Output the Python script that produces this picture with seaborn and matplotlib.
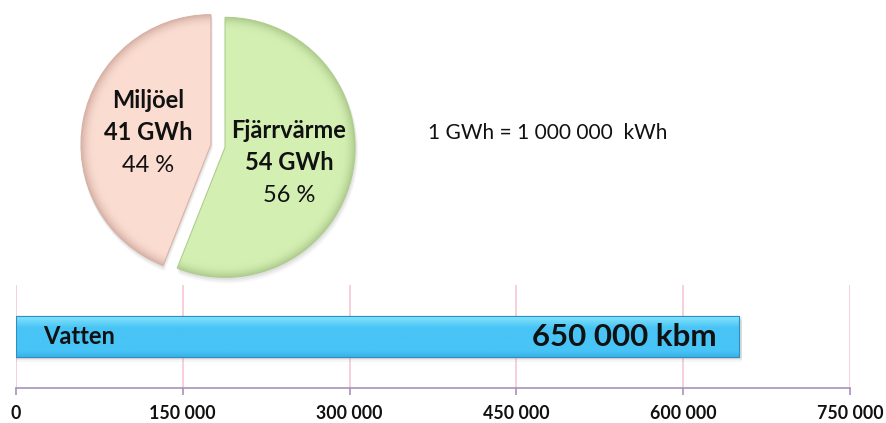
import numpy as np
import pandas as pd
import matplotlib
matplotlib.use("Agg")
import matplotlib.pyplot as plt
from matplotlib.colors import to_rgb
from matplotlib.patches import Wedge
import seaborn as sns

# ---- data ----
pie_names = ["Miljöel", "Fjärrvärme"]
pie_gwh = [41, 54]
pie_pct = [44, 56]
bar_names = ["Vatten"]
bar_values = [650000]
bar_unit = "kbm"
x_ticks = [0, 150000, 300000, 450000, 600000, 750000]
note_text = "1 GWh = 1 000 000  kWh"

sns.set_theme(style="white")
plt.rcParams["font.family"] = ["Lato", "DejaVu Sans"]

W, H = 887, 423
fig = plt.figure(figsize=(W / 100, H / 100), dpi=100)

def fx(px):
    return px / W

def fy(py):
    return 1 - py / H

def fmt(v):
    return f"{int(v):,}".replace(",", " ")

# ---- pie ----
R_PX = 130
CX, CY = 218, 146
half = 150
ax_pie = fig.add_axes([fx(CX - half), fy(CY + half), 2 * half / W, 2 * half / H])
lim = half / R_PX

fill_cols = ["#FADCD1", "#D4EFB2"]
edge_cols = ["#D8B2A6", "#AFCD8E"]
wedges, _ = ax_pie.pie(pie_pct, startangle=90, counterclock=True,
                       explode=[0.055, 0.055], radius=1,
                       colors=fill_cols,
                       wedgeprops=dict(edgecolor="none", linewidth=0, zorder=2))

# soft shadow
for w in wedges:
    for k, a in zip([0.035, 0.025, 0.015], [0.06, 0.08, 0.10]):
        sh = Wedge((w.center[0] + k * 0.4, w.center[1] - k), w.r + k * 0.3,
                   w.theta1, w.theta2, facecolor="#7a7a7a", alpha=a,
                   edgecolor="none", zorder=1)
        ax_pie.add_patch(sh)

gx = np.linspace(-lim, lim, 500)
GX, GY = np.meshgrid(gx, gx[::-1])
for w, fc, ec in zip(wedges, fill_cols, edge_cols):
    c = w.center
    r = np.sqrt((GX - c[0]) ** 2 + (GY - c[1]) ** 2)
    t = np.clip((r - 0.90) / 0.10, 0, 1) ** 2
    fc_, ec_ = np.array(to_rgb(fc)), np.array(to_rgb(ec))
    img = fc_[None, None, :] * (1 - t[..., None]) + ec_[None, None, :] * t[..., None]
    im = ax_pie.imshow(img, extent=[-lim, lim, -lim, lim], zorder=3,
                       interpolation="bilinear")
    im.set_clip_path(w)
    outline = Wedge(w.center, w.r, w.theta1, w.theta2, facecolor="none",
                    edgecolor=ec, linewidth=0.8, zorder=4)
    ax_pie.add_patch(outline)

ax_pie.set_xlim(-lim, lim)
ax_pie.set_ylim(-lim, lim)
ax_pie.set_aspect("equal")
ax_pie.axis("off")

def p2d(px, py):
    return (px - CX) / R_PX, (CY - py) / R_PX

label_pos = [(148, [100, 133, 165]), (289, [130, 162, 195])]
for name, g, p, (lx, ys) in zip(pie_names, pie_gwh, pie_pct, label_pos):
    texts = [(name, "bold"), (f"{g} GWh", "bold"), (f"{p} %", "normal")]
    for (s, wt), yy in zip(texts, ys):
        x, y = p2d(lx, yy)
        ax_pie.text(x, y, s, ha="center", va="center", fontsize=17,
                    fontweight=wt, color="#111111", zorder=5)

fig.text(fx(428), fy(133), note_text, ha="left", va="center",
         fontsize=15, color="#111111")

# ---- bar ----
ax_bar = fig.add_axes([fx(16), fy(388), (850 - 16) / W, (388 - 285) / H])
df = pd.DataFrame({"name": bar_names, "value": bar_values})
sns.barplot(data=df, x="value", y="name", orient="h", ax=ax_bar,
            width=0.4, color="#47C3F5", edgecolor="#2F8FBF", linewidth=0.8,
            zorder=3)
ax_bar.set_xlabel("")
ax_bar.set_ylabel("")
ax_bar.set_yticks([])
ax_bar.set_xticks(x_ticks, labels=[fmt(v) for v in x_ticks],
                  fontweight="bold", fontsize=12.8, color="#111111")
for t in x_ticks:
    ax_bar.axvline(t, color="#F5C8D6", linewidth=1.2, zorder=1)
for s in ["left", "right", "top"]:
    ax_bar.spines[s].set_visible(False)
ax_bar.spines["bottom"].set_color("#A592BC")
ax_bar.spines["bottom"].set_linewidth(1.2)
ax_bar.tick_params(axis="x", direction="out", length=5, width=1.2,
                   color="#A592BC", pad=7.5, bottom=True)

# vertical gradient + shadow on bar
bar_patch = ax_bar.patches[0]
bx, by = bar_patch.get_x(), bar_patch.get_y()
bw, bh = bar_patch.get_width(), bar_patch.get_height()
for k, a in zip([0.03, 0.02, 0.01], [0.06, 0.08, 0.1]):
    ax_bar.add_patch(plt.Rectangle((bx, by + k * 1.5), bw + 3000, bh,
                                   facecolor="#707070", alpha=a,
                                   edgecolor="none", zorder=2))
stops = np.linspace(0, 1, 100)
top_c = np.array(to_rgb("#8DE8FD"))
mid_c = np.array(to_rgb("#48C4F6"))
bot_c = np.array(to_rgb("#3BB2E8"))
cols = []
for s in stops:
    if s < 0.3:
        k = s / 0.3
        cols.append(top_c * (1 - k) + mid_c * k)
    elif s < 0.85:
        cols.append(mid_c)
    else:
        k = (s - 0.85) / 0.15
        cols.append(mid_c * (1 - k) + bot_c * k)
grad = np.array(cols)[:, None, :].repeat(2, axis=1)
im = ax_bar.imshow(grad, extent=[bx, bx + bw, by + bh, by], aspect="auto",
                   zorder=3.5, interpolation="bilinear")
im.set_clip_path(bar_patch)
ax_bar.add_patch(plt.Rectangle((bx, by), bw, bh, facecolor="none",
                               edgecolor="#2F8FBF", linewidth=0.8, zorder=3.6))
ax_bar.set_xlim(x_ticks[0], x_ticks[-1])
ax_bar.set_ylim(0.5, -0.5)

ax_bar.text((43 - 16) / 834, 0.5, bar_names[0], transform=ax_bar.transAxes,
            ha="left", va="center", fontsize=17, fontweight="bold",
            color="#111111", zorder=5)
ax_bar.annotate(fmt(bar_values[0]) + f" {bar_unit}",
                xy=(bar_values[0], 0), xytext=(-16, 0),
                textcoords="offset points", ha="right", va="center",
                fontsize=22.5, fontweight="bold", color="#111111", zorder=5)

fig.savefig("out.png", dpi=100)
